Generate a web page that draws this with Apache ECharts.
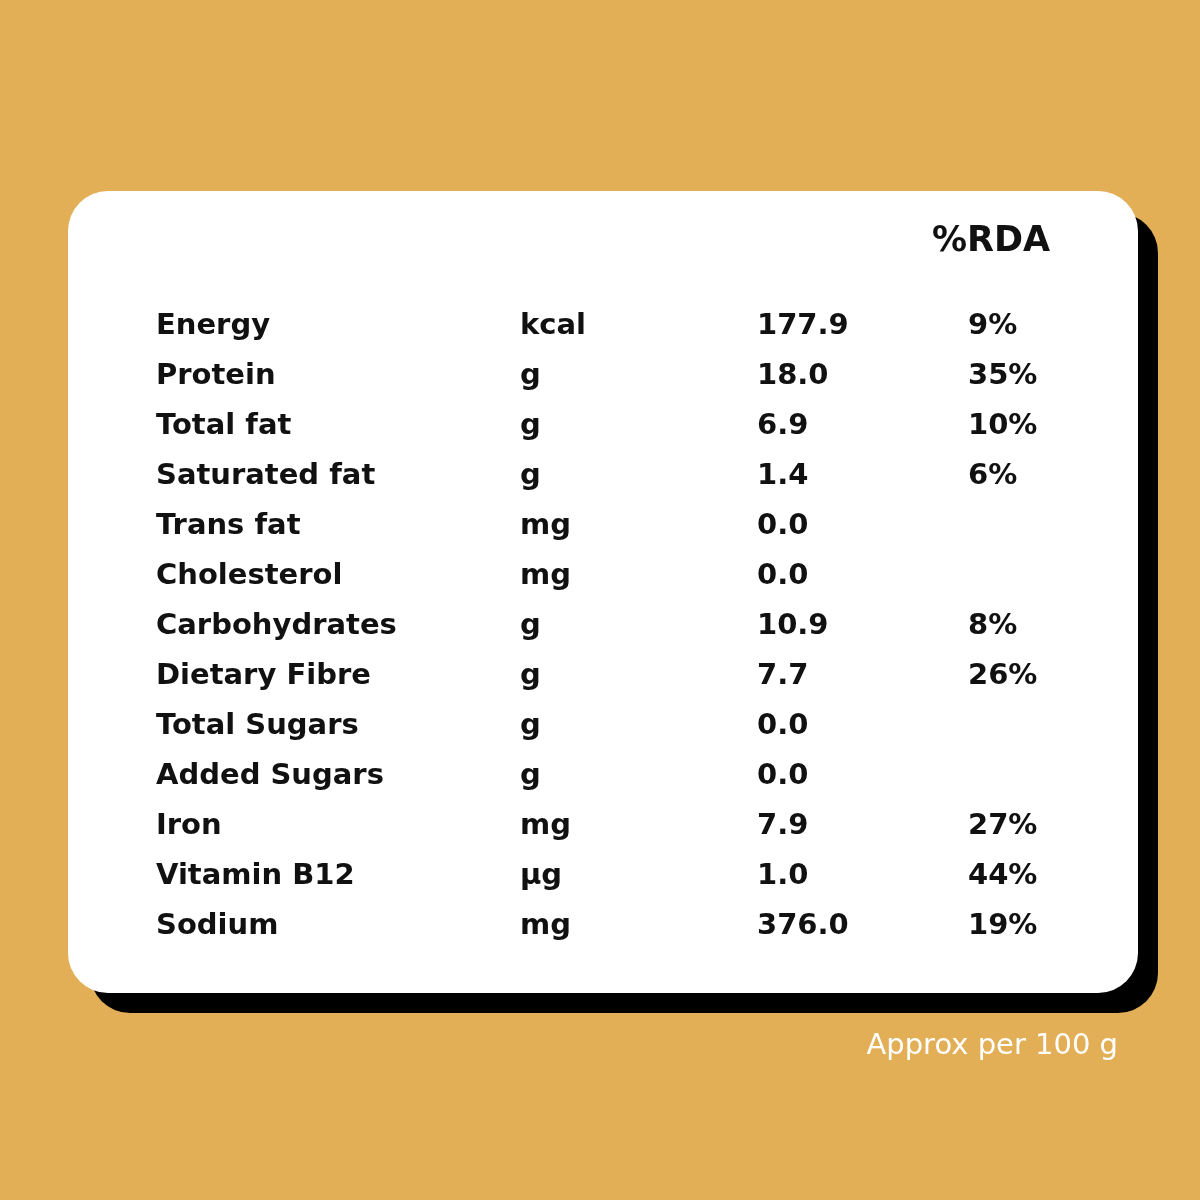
<!DOCTYPE html>
<html>
<head>
<meta charset="utf-8">
<script src="https://cdn.jsdelivr.net/npm/echarts@6/dist/echarts.min.js"></script>
<style>
	html, body { margin: 0; padding: 0; background: #E2AE56; }
	#main { width: 1200px; height: 1200px; }
</style>
</head>
<body>
<div id="main"></div>
<script>
// table data
const nutrients = ['Energy', 'Protein', 'Total fat', 'Saturated fat', 'Trans fat', 'Cholesterol',
	'Carbohydrates', 'Dietary Fibre', 'Total Sugars', 'Added Sugars', 'Iron', 'Vitamin B12', 'Sodium'];
const units = ['kcal', 'g', 'g', 'g', 'mg', 'mg', 'g', 'g', 'g', 'g', 'mg', 'µg', 'mg'];
const amounts = ['177.9', '18.0', '6.9', '1.4', '0.0', '0.0', '10.9', '7.7', '0.0', '0.0', '7.9', '1.0', '376.0'];
const rda = ['9%', '35%', '10%', '6%', '', '', '8%', '26%', '', '', '27%', '44%', '19%'];

let myChart = echarts.init(document.getElementById('main'));

const font = '"DejaVu Sans", "Open Sans", sans-serif';
const cols = [156, 520, 757, 968];
let elements = [];

// 卡片阴影和卡片
elements.push({
	type: 'rect',
	shape: { x: 90, y: 213, width: 1068, height: 800, r: 40 },
	style: { fill: '#000' }
});
elements.push({
	type: 'rect',
	shape: { x: 68, y: 191, width: 1070, height: 802, r: 40 },
	style: { fill: '#fff' }
});
elements.push({
	type: 'text',
	x: 932, y: 242,
	style: { text: '%RDA', fill: '#111', font: 'bold 35px ' + font, textVerticalAlign: 'middle' }
});

// 表格行
for (let i = 0; i < nutrients.length; i++) {
	let row = [nutrients[i], units[i], amounts[i], rda[i]];
	for (let j = 0; j < row.length; j++) {
		elements.push({
			type: 'text',
			x: cols[j], y: 326 + i * 50,
			style: { text: row[j], fill: '#111', font: 'bold 29px ' + font, textVerticalAlign: 'middle' }
		});
	}
}

elements.push({
	type: 'text',
	x: 1118, y: 1046,
	style: { text: 'Approx per 100 g', fill: '#fff', font: '29px ' + font, textAlign: 'right', textVerticalAlign: 'middle' }
});

let option = {
	backgroundColor: '#E2AE56',
	graphic: elements
};
myChart.setOption(option);
</script>
</body>
</html>
